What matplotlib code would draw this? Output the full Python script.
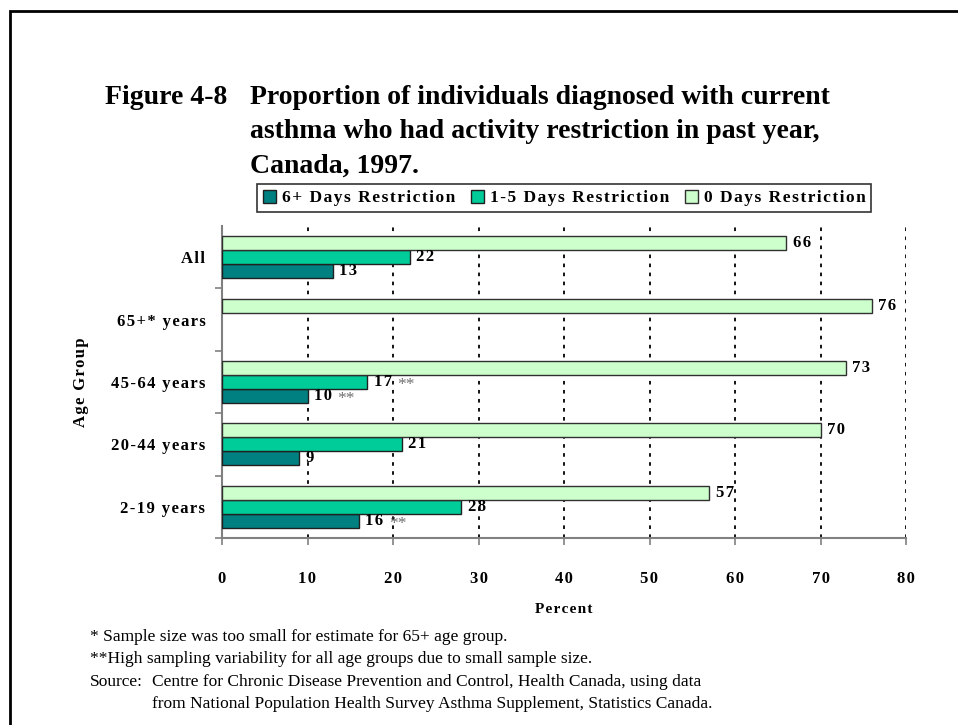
import numpy as np
import matplotlib.pyplot as plt
from matplotlib.patches import Rectangle

plt.rcParams['font.family'] = ['Liberation Serif', 'DejaVu Serif']

AGE_GROUPS = ['2-19 years', '20-44 years', '45-64 years', '65+* years', 'All']
SERIES = ['6+ Days Restriction', '1-5 Days Restriction', '0 Days Restriction']
DAYS_6_PLUS = [16, 9, 10, None, 13]
DAYS_1_5 = [28, 21, 17, None, 22]
DAYS_0 = [57, 70, 73, 76, 66]
# groups flagged for high sampling variability (**)
FLAG_6_PLUS = [True, False, True, False, False]
FLAG_1_5 = [False, False, True, False, False]

COLORS = ['#008080', '#00CC99', '#CCFFCC']

HAIR = '\u200a'


def track(s, sep=HAIR):
    """Widen text by putting a narrow space between letters."""
    return sep.join(s)


fig = plt.figure(figsize=(9.58, 7.25), dpi=100)

# page frame (open on right and bottom)
fig.patches.append(Rectangle((10 / 958, -0.1), 1.2, 1 - 11 / 725 + 0.1,
                             transform=fig.transFigure, fill=False,
                             edgecolor='black', linewidth=2))

title_lines = ['Proportion of individuals diagnosed with current',
               'asthma who had activity restriction in past year,',
               'Canada, 1997.']
fig.text(105 / 958, 1 - 104 / 725, 'Figure 4-8', fontsize=20, fontweight='bold', va='baseline')
for k, line in enumerate(title_lines):
    fig.text(250 / 958, 1 - (104 + 34.5 * k) / 725, line, fontsize=20,
             fontweight='bold', va='baseline')

ax = fig.add_axes([222 / 958, 1 - 538 / 725, 684 / 958, 312 / 725])

y = np.arange(len(AGE_GROUPS))
h = 0.225


def clean(vals):
    return [np.nan if v is None else v for v in vals]


b6 = ax.barh(y - h, clean(DAYS_6_PLUS), h, color=COLORS[0], edgecolor='#202020', linewidth=1, zorder=3)
b15 = ax.barh(y, clean(DAYS_1_5), h, color=COLORS[1], edgecolor='#202020', linewidth=1, zorder=3)
b0 = ax.barh(y + h, clean(DAYS_0), h, color=COLORS[2], edgecolor='#303030', linewidth=1, zorder=3)

for offs, vals, flags in [(-h, DAYS_6_PLUS, FLAG_6_PLUS), (0, DAYS_1_5, FLAG_1_5), (h, DAYS_0, None)]:
    for i, v in enumerate(vals):
        if v is None:
            continue
        ax.annotate(track(str(v)), (v, y[i] + offs), xytext=(4.5, 0),
                    textcoords='offset points', fontsize=12, fontweight='bold', va='center')
        if flags and flags[i]:
            ax.annotate('**', (v, y[i] + offs), xytext=(21.5, -2), textcoords='offset points',
                        fontsize=12.5, color='#707070', va='center')

ax.set_xlim(0, 80)
ax.set_ylim(-0.5, 4.5)
xt = np.arange(0, 81, 10)
ax.set_xticks(xt)
ax.set_xticklabels([track(str(t)) for t in xt], fontsize=12, fontweight='bold')
ax.set_yticks(y)
ax.set_yticklabels([track(g) for g in AGE_GROUPS], fontsize=12, fontweight='bold')
ax.set_yticks(np.arange(-0.5, 4, 1), minor=True)
ax.tick_params(axis='y', which='major', length=0, pad=12)
ax.tick_params(axis='y', which='minor', length=5, width=1.2, color='#808080', direction='out')
ax.tick_params(axis='x', length=5, width=1.2, color='#808080', pad=19)

for xv in xt[1:]:
    ax.axvline(xv, color='black', linestyle=(0, (2, 3)), linewidth=1.3, zorder=1)

for side in ['top', 'right']:
    ax.spines[side].set_visible(False)
for side in ['left', 'bottom']:
    ax.spines[side].set_color('#808080')
    ax.spines[side].set_linewidth(1.5)

ax.set_xlabel(track('Percent'), fontsize=11, fontweight='bold', labelpad=11)
ax.set_ylabel(track('Age Group'), fontsize=12, fontweight='bold', labelpad=16)

leg = fig.legend(handles=[b6, b15, b0], labels=[track(s) for s in SERIES], ncol=3,
                 loc='center', bbox_to_anchor=(564 / 958, 1 - 198 / 725),
                 frameon=True, fancybox=False, edgecolor='black',
                 prop={'size': 12.5, 'weight': 'bold'},
                 handlelength=0.8, handleheight=0.8, handletextpad=0.3,
                 columnspacing=0.9, borderpad=0.3, borderaxespad=0)
leg.get_frame().set_linewidth(1.2)

notes = ['* Sample size was too small for estimate for 65+ age group.',
         '**High sampling variability for all age groups due to small sample size.',
         'Source:']
for k, line in enumerate(notes):
    fig.text(90 / 958, 1 - (637 + 22.3 * k) / 725, line, fontsize=12.5, va='center')
fig.text(152 / 958, 1 - (637 + 22.3 * 2) / 725,
         'Centre for Chronic Disease Prevention and Control, Health Canada, using data',
         fontsize=12.5, va='center')
fig.text(152 / 958, 1 - (637 + 22.3 * 3) / 725,
         'from National Population Health Survey Asthma Supplement, Statistics Canada.',
         fontsize=12.5, va='center')

fig.savefig('out.png', dpi=100)
